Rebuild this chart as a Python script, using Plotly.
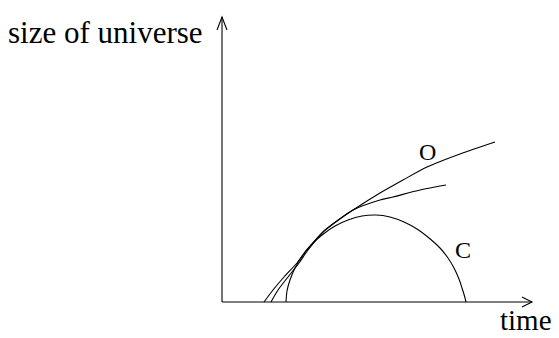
import plotly.graph_objects as go

# curves (time, size), arbitrary units
open_t = [42, 51, 62, 75, 85, 101, 115, 131, 158, 181, 205, 238, 273]
open_a = [0, 12, 25, 39, 52, 70, 81, 92, 109, 122, 135, 148, 160]

flat_t = [49, 56, 66, 77, 86, 101, 115, 131, 158, 171, 198, 224]
flat_a = [0, 12, 25, 39, 52, 70, 81, 92, 102, 105, 112, 117]

closed_t = [64, 65, 68, 73, 80, 89, 100, 113, 126, 140, 154,
            168, 182, 195, 207, 218, 226, 232, 237, 240, 242.5, 244]
closed_a = [0, 11, 22, 34, 46, 57, 67, 76, 82, 86, 87,
            85, 80, 73, 64, 54, 44, 34, 23, 14, 6, 0]

curve_labels = ["O", "C"]
label_t = [205, 241]
label_a = [150, 52]

X_END = 310
Y_END = 285
SERIF = "Liberation Serif, Times New Roman, serif"

fig = go.Figure()
for t, a in [(open_t, open_a), (flat_t, flat_a), (closed_t, closed_a)]:
    fig.add_trace(
        go.Scatter(
            x=t,
            y=a,
            mode="lines",
            line=dict(color="black", width=1.1, shape="spline", smoothing=0.8),
            hoverinfo="skip",
            showlegend=False,
        )
    )

# axes with open arrowheads
line = dict(color="black", width=1.1)
fig.add_shape(type="line", x0=0, y0=0, x1=X_END, y1=0, line=line)
fig.add_shape(type="line", x0=0, y0=0, x1=0, y1=Y_END, line=line)
fig.add_shape(type="path", path=f"M {X_END-10},5 L {X_END},0 L {X_END-10},-5", line=line)
fig.add_shape(type="path", path=f"M -5,{Y_END-13} L 0,{Y_END} L 5,{Y_END-13}", line=line)

for text, t, a in zip(curve_labels, label_t, label_a):
    fig.add_annotation(x=t, y=a, text=text, showarrow=False,
                       font=dict(family=SERIF, size=24, color="black"))

# axis titles in paper coordinates (they sit outside the data range)
fig.add_annotation(x=-0.015, y=0.918, xref="paper", yref="paper",
                   text="size of universe", showarrow=False,
                   xanchor="right", yanchor="middle",
                   font=dict(family=SERIF, size=31, color="black"))
fig.add_annotation(x=0.868, y=-0.085, xref="paper", yref="paper",
                   text="time", showarrow=False,
                   xanchor="left", yanchor="bottom",
                   font=dict(family=SERIF, size=29, color="black"))

axis = dict(visible=False, showgrid=False, zeroline=False, fixedrange=True)
fig.update_layout(
    width=559,
    height=338,
    xaxis=dict(range=[-12, 320], **axis),
    yaxis=dict(range=[-10, 295], **axis),
    margin=dict(l=210, r=17, t=7, b=26),
    plot_bgcolor="white",
    paper_bgcolor="white",
    showlegend=False,
)
fig.write_html("out.html", config={"displayModeBar": False},
               post_script="document.body.style.margin='0';")
